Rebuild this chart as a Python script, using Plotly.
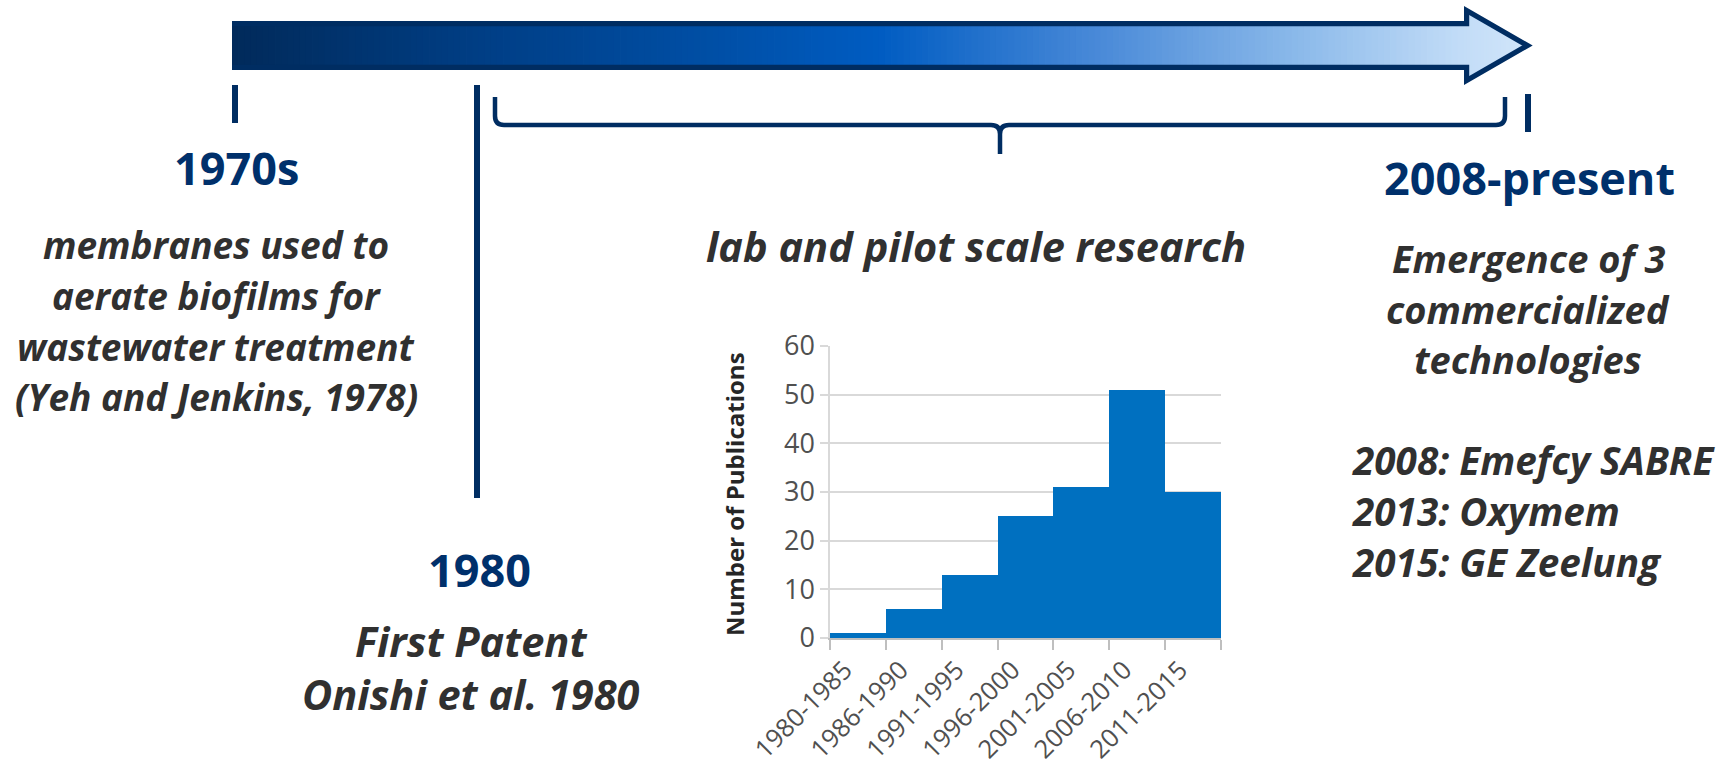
import plotly.graph_objects as go

# ---- data -------------------------------------------------------------
periods = ["1980-1985", "1986-1990", "1991-1995", "1996-2000",
           "2001-2005", "2006-2010", "2011-2015"]
publications = [1, 6, 13, 25, 31, 51, 30]
y_ticks = [0, 10, 20, 30, 40, 50, 60]

heading_1970 = "1970s"
text_1970 = ["membranes used to", "aerate biofilms for",
             "wastewater treatment", "(Yeh and Jenkins, 1978)"]
heading_1980 = "1980"
text_1980 = ["First Patent", "Onishi et al. 1980"]
text_research = "lab and pilot scale research"
heading_2008 = "2008-present"
text_2008 = ["Emergence of 3", "commercialized", "technologies"]
commercial = ["2008: Emefcy SABRE", "2013: Oxymem", "2015: GE Zeelung"]

# ---- page geometry (pixels) -------------------------------------------
W, H = 1729, 769
NAVY = "#002D62"
HEAD_NAVY = "#00306B"
BODY = "#303030"
BAR_BLUE = "#0070C0"
GRID = "#D9D9D9"
FONT = "Open Sans"


def px(x):
    return x / W


def py(y):
    return 1 - y / H


def hex_to_rgb(h):
    h = h.lstrip("#")
    return tuple(int(h[i:i + 2], 16) for i in (0, 2, 4))


# colour stops along the timeline arrow (pixel x, colour)
GRAD = [(232, "#012A5A"), (480, "#003E85"), (730, "#0050A8"),
        (880, "#005CC2"), (1100, "#4A8AD8"), (1300, "#8CBAEA"),
        (1460, "#C2DCF7"), (1532, "#D2E6FA")]


def grad_color(x):
    for (x0, c0), (x1, c1) in zip(GRAD[:-1], GRAD[1:]):
        if x <= x1:
            t = max(0.0, min(1.0, (x - x0) / (x1 - x0)))
            a, b = hex_to_rgb(c0), hex_to_rgb(c1)
            r = [round(a[i] + (b[i] - a[i]) * t) for i in range(3)]
            return "rgb(%d,%d,%d)" % tuple(r)
    return GRAD[-1][1]


shapes = []

# ---- timeline arrow: gradient body drawn as thin strips ----------------
SHAFT_L, SHAFT_R = 232.0, 1464.0
SHAFT_T, SHAFT_B = 21.0, 70.0
HEAD_T, HEAD_B, TIP, MID = 7.0, 84.0, 1532.0, 45.5

n_shaft = 200
step = (SHAFT_R - SHAFT_L) / n_shaft
for i in range(n_shaft):
    xa = SHAFT_L + i * step
    xb = xa + step + 0.8
    shapes.append(dict(type="rect", xref="paper", yref="paper",
                       x0=px(xa), x1=px(min(xb, SHAFT_R)),
                       y0=py(SHAFT_B), y1=py(SHAFT_T),
                       fillcolor=grad_color(xa + step / 2),
                       line=dict(width=0), layer="below"))


def head_edges(x):
    f = (x - SHAFT_R) / (TIP - SHAFT_R)
    return HEAD_T + (MID - HEAD_T) * f, HEAD_B + (MID - HEAD_B) * f


n_head = 24
hstep = (TIP - SHAFT_R) / n_head
for i in range(n_head):
    xa = SHAFT_R + i * hstep
    xb = min(xa + hstep + 0.8, TIP)
    ta, ba = head_edges(xa)
    tb, bb = head_edges(xb)
    path = "M %f,%f L %f,%f L %f,%f L %f,%f Z" % (
        px(xa), py(ta), px(xb), py(tb), px(xb), py(bb), px(xa), py(ba))
    shapes.append(dict(type="path", xref="paper", yref="paper", path=path,
                       fillcolor=grad_color(xa + hstep / 2),
                       line=dict(width=0), layer="below"))

# arrow outline
o = 2.6
outline = [(SHAFT_L, SHAFT_T + o), (SHAFT_R + o, SHAFT_T + o),
           (SHAFT_R + o, HEAD_T + 3.5), (TIP - 4.5, MID),
           (SHAFT_R + o, HEAD_B - 3.5), (SHAFT_R + o, SHAFT_B - o),
           (SHAFT_L, SHAFT_B - o)]
path = "M " + " L ".join("%f,%f" % (px(a), py(b)) for a, b in outline)
shapes.append(dict(type="path", xref="paper", yref="paper", path=path,
                   line=dict(color=NAVY, width=5.2)))

# ---- tick marks and separators -----------------------------------------
for x, y0, y1 in [(235, 85, 123), (477, 85, 498), (1528, 94, 132)]:
    shapes.append(dict(type="line", xref="paper", yref="paper",
                       x0=px(x), x1=px(x), y0=py(y0), y1=py(y1),
                       line=dict(color=NAVY, width=6)))

# curly brace over the research period
BL, BR, BT, BY, BTIP = 495.0, 1505.0, 97.0, 125.0, 154.0
BC = (BL + BR) / 2
r = 9.0


def P(x, y):
    return "%f,%f" % (px(x), py(y))


brace = ("M " + P(BL, BT) + " L " + P(BL, BY - r) +
         " Q " + P(BL, BY) + " " + P(BL + r, BY) +
         " L " + P(BC - r, BY) +
         " Q " + P(BC, BY) + " " + P(BC, BY + r) +
         " L " + P(BC, BTIP) +
         " M " + P(BC, BY + r) +
         " Q " + P(BC, BY) + " " + P(BC + r, BY) +
         " L " + P(BR - r, BY) +
         " Q " + P(BR, BY) + " " + P(BR, BY - r) +
         " L " + P(BR, BT))
shapes.append(dict(type="path", xref="paper", yref="paper", path=brace,
                   line=dict(color=NAVY, width=4.5)))

# ---- text ---------------------------------------------------------------
annotations = []


def add_lines(lines, x, first_base, spacing, size, color, bold=True,
              italic=False, anchor="center"):
    """One annotation per line so every baseline sits where it should."""
    if isinstance(lines, str):
        lines = [lines]
    for k, line in enumerate(lines):
        base = first_base + k * spacing
        yc = base - 0.388 * size
        annotations.append(dict(
            xref="paper", yref="paper", x=px(x), y=py(yc),
            xanchor=anchor, yanchor="middle", text=line, showarrow=False,
            font=dict(family=FONT, size=size, color=color,
                      weight="bold" if bold else "normal",
                      style="italic" if italic else "normal")))


add_lines(heading_1970, 236, 185, 0, 45, HEAD_NAVY)
add_lines(heading_1980, 479, 587, 0, 45, HEAD_NAVY)
add_lines(heading_2008, 1529, 195, 0, 45, HEAD_NAVY)
add_lines(text_1970, 216, 259, 50.7, 37, BODY, italic=True)
add_lines(text_1980, 471, 657, 53, 41.5, BODY, italic=True)
add_lines(text_research, 976, 262, 0, 41.5, BODY, italic=True)
add_lines(text_2008, 1528, 273, 50.5, 38, BODY, italic=True)
add_lines(commercial, 1350, 475, 51, 38.7, BODY, italic=True, anchor="left")

# y axis title of the publication chart
annotations.append(dict(
    xref="paper", yref="paper", x=px(734), y=py(494),
    xanchor="center", yanchor="middle", textangle=-90,
    text="Number of Publications", showarrow=False,
    font=dict(family=FONT, size=24, color="#262626", weight="bold")))

# ---- publication chart --------------------------------------------------
fig = go.Figure()
fig.add_trace(go.Bar(x=periods, y=publications,
                     marker=dict(color=BAR_BLUE, line=dict(width=0)),
                     hoverinfo="x+y"))

PL, PR, PT, PB = 830.0, 1221.0, 346.0, 638.0
fig.update_layout(
    template="none",
    width=W, height=H,
    margin=dict(l=0, r=0, t=0, b=0, pad=0, autoexpand=False),
    paper_bgcolor="white", plot_bgcolor="white",
    showlegend=False, bargap=0,
    shapes=shapes, annotations=annotations,
    xaxis=dict(domain=[px(PL), px(PR)], type="category",
               range=[-0.5, len(periods) - 0.5], automargin=False,
               showline=True, linecolor="#BFBFBF", linewidth=1.5,
               ticks="outside", tickson="boundaries", ticklen=10,
               tickcolor="#BFBFBF", tickwidth=1.5, tickangle=-45,
               ticklabelstandoff=5, ticklabelshift=-13,
               tickfont=dict(family=FONT, size=25.5, color="#505050"),
               showgrid=False, zeroline=False, fixedrange=True),
    yaxis=dict(domain=[py(PB), py(PT)], range=[0, 60], automargin=False,
               tickvals=y_ticks, showline=True, linecolor=GRID,
               linewidth=1.5, showgrid=True, gridcolor=GRID, gridwidth=1.5,
               ticks="outside", ticklen=8, tickcolor=GRID, tickwidth=1.5,
               tickfont=dict(family=FONT, size=27, color="#505050"),
               zeroline=False, fixedrange=True),
)

fig.write_html("out.html")
